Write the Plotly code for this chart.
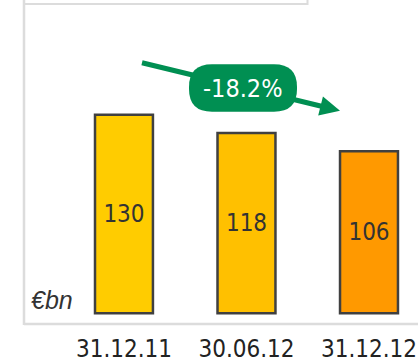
import plotly.graph_objects as go

dates = ["31.12.11", "30.06.12", "31.12.12"]
volumes = [130, 118, 106]
bar_colors = ["#FFCC00", "#FFC000", "#FF9900"]
change_label = "-18.2%"
unit_label = "€bn"

W, H = 418, 363
L, R, T, B = 24, 0, 5, 35
PW, PH = W - L - R, H - T - B


def px(x):
    # pixel x -> paper x
    return (x - L) / PW


def py(y):
    # pixel y -> paper y
    return (H - B - y) / PH


GREEN = "#008F52"
FRAME = "#DCDCDC"
FONT = "DejaVu Sans Condensed, Liberation Sans Narrow, Roboto, sans-serif"

fig = go.Figure()
fig.add_trace(go.Bar(
    x=dates,
    y=volumes,
    text=[str(v) for v in volumes],
    textposition="inside",
    insidetextanchor="middle",
    textfont=dict(size=24, color="#333333", family=FONT),
    marker=dict(color=bar_colors, line=dict(color="#404040", width=2.5)),
    width=0.473,
    showlegend=False,
    hoverinfo="skip",
))

shapes = []
# frame: left and bottom lines
shapes.append(dict(type="line", xref="paper", yref="paper", x0=0, x1=0, y0=-0.003, y1=py(-2),
                   line=dict(color=FRAME, width=2.5)))
shapes.append(dict(type="line", xref="paper", yref="paper", x0=0, x1=1.01, y0=0, y1=0,
                   line=dict(color=FRAME, width=2.5)))
# box at top (legend area cropped)
shapes.append(dict(type="rect", xref="paper", yref="paper", x0=0, x1=px(307.5), y0=py(4), y1=py(-5),
                   line=dict(color=FRAME, width=2)))

# arrow line + head
tail = (142, 63.5)
tip = (340, 112)
dx, dy = tip[0] - tail[0], tip[1] - tail[1]
ln = (dx ** 2 + dy ** 2) ** 0.5
ux, uy = dx / ln, dy / ln
nx, ny = -uy, ux
hl, hw = 20, 10
bx, by = tip[0] - hl * ux, tip[1] - hl * uy
shapes.append(dict(type="line", xref="paper", yref="paper",
                   x0=px(tail[0]), y0=py(tail[1]), x1=px(bx + 2 * ux), y1=py(by + 2 * uy),
                   line=dict(color=GREEN, width=5)))
head = "M {},{} L {},{} L {},{} Z".format(
    px(tip[0]), py(tip[1]),
    px(bx + hw * nx), py(by + hw * ny),
    px(bx - hw * nx), py(by - hw * ny))
shapes.append(dict(type="path", xref="paper", yref="paper", path=head,
                   fillcolor=GREEN, line=dict(color=GREEN, width=0)))

# rounded badge
x0, x1, y0, y1, r = 189, 297, 65, 113, 23


def P(x, y):
    return "{:.5f},{:.5f}".format(px(x), py(y))


badge = ("M " + P(x0 + r, y0) + " L " + P(x1 - r, y0) + " Q " + P(x1, y0) + " " + P(x1, y0 + r)
         + " L " + P(x1, y1 - r) + " Q " + P(x1, y1) + " " + P(x1 - r, y1)
         + " L " + P(x0 + r, y1) + " Q " + P(x0, y1) + " " + P(x0, y1 - r)
         + " L " + P(x0, y0 + r) + " Q " + P(x0, y0) + " " + P(x0 + r, y0) + " Z")
shapes.append(dict(type="path", xref="paper", yref="paper", path=badge,
                   fillcolor=GREEN, line=dict(color=GREEN, width=0)))

fig.update_layout(
    width=W, height=H,
    margin=dict(l=L, r=R, t=T, b=B),
    plot_bgcolor="white",
    paper_bgcolor="white",
    shapes=shapes,
    annotations=[
        dict(text=change_label, xref="paper", yref="paper", x=px(243), y=py(89.5),
             xanchor="center", yanchor="middle",
             showarrow=False, font=dict(size=25, color="white", family=FONT)),
        dict(text="<i>" + unit_label + "</i>", xref="paper", yref="paper", x=px(29), y=py(304),
             xanchor="left", yanchor="middle", showarrow=False,
             font=dict(size=25, color="#333333", family="Liberation Sans, Arial, sans-serif")),
    ],
    xaxis=dict(range=[-0.816, 2.40], showgrid=False, zeroline=False, showline=False,
               ticks="", tickfont=dict(size=24, color="#222222", family=FONT),
               ticklabelstandoff=8, fixedrange=True),
    yaxis=dict(range=[-7.115, 201.8], showgrid=False, zeroline=False, showline=False,
               showticklabels=False, ticks="", fixedrange=True),
    showlegend=False,
)

fig.write_html("out.html", config={"displayModeBar": False},
               post_script="document.body.style.margin='0';")
